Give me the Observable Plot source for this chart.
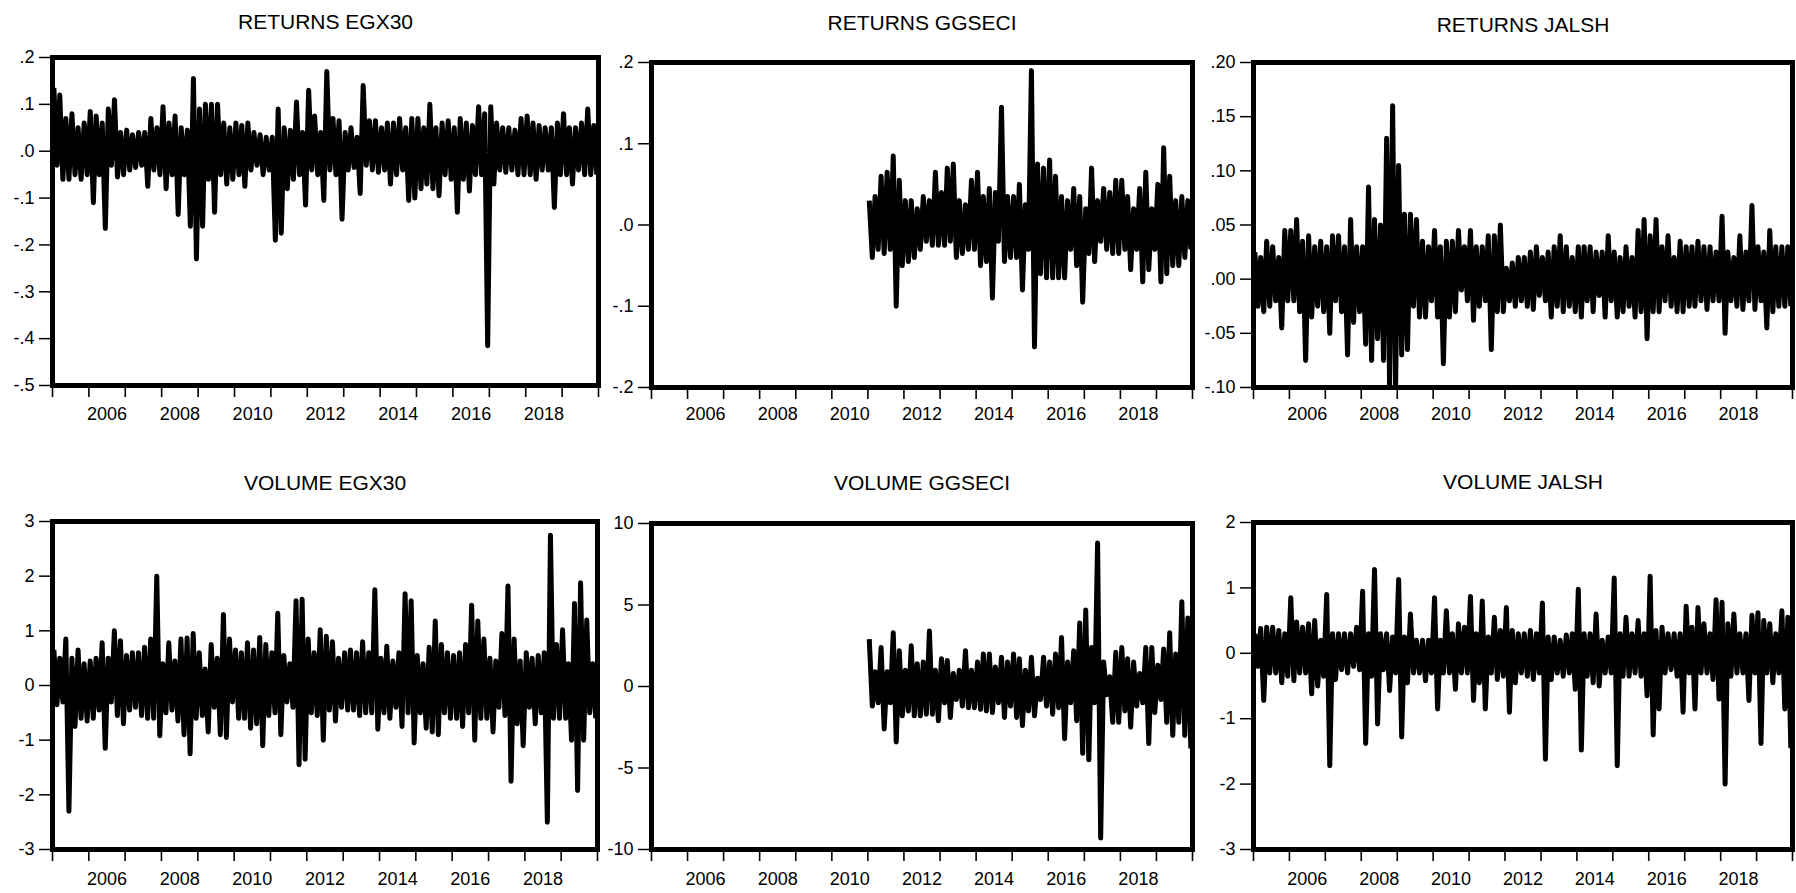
<!DOCTYPE html>
<html>
<head>
<meta charset="utf-8">
<script src="https://cdn.jsdelivr.net/npm/d3@7"></script>
<script src="https://cdn.jsdelivr.net/npm/@observablehq/plot@0.6"></script>
<style>
  body { margin: 0; background: #fff; }
  #wrap { position: relative; width: 1796px; height: 893px; overflow: hidden; background: #fff; }
  #wrap svg { position: absolute; overflow: visible; }
</style>
</head>
<body>
<div id="wrap"></div>
<script>
// ---------- titles ----------
const titles = ["RETURNS EGX30", "RETURNS GGSECI", "RETURNS JALSH", "VOLUME EGX30", "VOLUME GGSECI", "VOLUME JALSH"];

// ---------- x axis labels ----------
const yearTickYears = [2005,2006,2007,2008,2009,2010,2011,2012,2013,2014,2015,2016,2017,2018,2019,2020];
const yearLabels = ["2006","2008","2010","2012","2014","2016","2018"];

// ---------- y axis ticks / labels ----------
const yTicksRetEGX30 = [-0.5,-0.4,-0.3,-0.2,-0.1,0,0.1,0.2];
const yLabelsRetEGX30 = ["-.5","-.4","-.3","-.2","-.1",".0",".1",".2"];
const yTicksRetGGSECI = [-0.2,-0.1,0,0.1,0.2];
const yLabelsRetGGSECI = ["-.2","-.1",".0",".1",".2"];
const yTicksRetJALSH = [-0.10,-0.05,0,0.05,0.10,0.15,0.20];
const yLabelsRetJALSH = ["-.10","-.05",".00",".05",".10",".15",".20"];
const yTicksVolEGX30 = [-3,-2,-1,0,1,2,3];
const yLabelsVolEGX30 = ["-3","-2","-1","0","1","2","3"];
const yTicksVolGGSECI = [-10,-5,0,5,10];
const yLabelsVolGGSECI = ["-10","-5","0","5","10"];
const yTicksVolJALSH = [-3,-2,-1,0,1,2];
const yLabelsVolJALSH = ["-3","-2","-1","0","1","2"];

// ---------- series (monthly readings, EGX30 & JALSH from Jan 2005, GGSECI from Jan 2011) ----------
const retEGX30 = [
 0.135,-0.03,0.12,-0.06,0.07,-0.06,0.08,-0.05,0.05,-0.06,0.06,-0.05,
 0.085,-0.11,0.075,-0.05,0.06,-0.165,0.09,-0.03,0.11,-0.055,0.04,-0.05,
 0.045,-0.04,0.035,-0.035,0.04,-0.03,0.04,-0.075,0.07,-0.04,0.05,-0.05,
 0.095,-0.08,0.06,-0.05,0.075,-0.135,0.05,-0.05,0.045,-0.16,0.155,-0.23,
 0.09,-0.16,0.1,-0.06,0.1,-0.13,0.1,-0.05,0.06,-0.07,0.05,-0.06,
 0.06,-0.05,0.055,-0.075,0.06,-0.04,0.04,-0.03,0.035,-0.05,0.03,-0.04,
 0.03,-0.19,0.09,-0.175,0.05,-0.08,0.045,-0.06,0.105,-0.05,0.04,-0.115,
 0.13,-0.04,0.075,-0.05,0.04,-0.105,0.17,-0.04,0.07,-0.05,0.065,-0.145,
 0.04,-0.04,0.05,-0.035,0.03,-0.09,0.14,-0.03,0.065,-0.04,0.065,-0.045,
 0.05,-0.04,0.06,-0.07,0.06,-0.05,0.07,-0.04,0.05,-0.105,0.07,-0.1,
 0.07,-0.08,0.05,-0.07,0.1,-0.08,0.05,-0.095,0.06,-0.05,0.065,-0.06,
 0.05,-0.13,0.07,-0.06,0.06,-0.085,0.055,-0.05,0.095,-0.05,0.08,-0.415,
 0.095,-0.07,0.06,-0.04,0.05,-0.045,0.05,-0.04,0.045,-0.05,0.07,-0.05,
 0.075,-0.05,0.06,-0.06,0.055,-0.04,0.05,-0.04,0.05,-0.12,0.06,-0.05,
 0.08,-0.05,0.05,-0.07,0.05,-0.04,0.06,-0.05,0.09,-0.05,0.055,-0.05
];
const retGGSECI = [
 0.03,-0.04,0.035,-0.03,0.06,-0.035,0.065,-0.03,0.085,-0.1,0.055,-0.05,
 0.03,-0.045,0.03,-0.04,0.02,-0.03,0.035,-0.02,0.03,-0.025,0.065,-0.025,
 0.04,-0.025,0.07,-0.02,0.075,-0.04,0.03,-0.035,0.025,-0.03,0.055,-0.03,
 0.065,-0.05,0.035,-0.045,0.045,-0.09,0.04,-0.02,0.145,-0.045,0.035,-0.04,
 0.035,-0.04,0.05,-0.08,0.025,-0.03,0.19,-0.15,0.075,-0.06,0.07,-0.065,
 0.08,-0.065,0.06,-0.065,0.035,-0.065,0.03,-0.03,0.045,-0.05,0.035,-0.095,
 0.02,-0.035,0.07,-0.045,0.03,-0.02,0.045,-0.03,0.04,-0.035,0.055,-0.035,
 0.055,-0.03,0.035,-0.055,0.02,-0.03,0.045,-0.07,0.065,-0.055,0.02,-0.03,
 0.05,-0.07,0.095,-0.06,0.06,-0.05,0.03,-0.05,0.035,-0.04,0.03,-0.03
];
const retJALSH = [
 0.025,-0.025,0.02,-0.03,0.035,-0.025,0.03,-0.02,0.02,-0.045,0.045,-0.02,
 0.045,-0.02,0.055,-0.03,0.035,-0.075,0.04,-0.035,0.03,-0.025,0.035,-0.03,
 0.03,-0.05,0.04,-0.02,0.04,-0.03,0.03,-0.07,0.055,-0.04,0.03,-0.03,
 0.03,-0.06,0.085,-0.075,0.055,-0.055,0.05,-0.075,0.13,-0.1,0.16,-0.1,
 0.105,-0.07,0.06,-0.065,0.06,-0.025,0.055,-0.035,0.035,-0.035,0.03,-0.02,
 0.045,-0.035,0.03,-0.078,0.035,-0.035,0.035,-0.03,0.045,-0.01,0.03,-0.02,
 0.045,-0.038,0.03,-0.025,0.03,-0.02,0.04,-0.065,0.04,-0.03,0.05,-0.03,
 0.01,-0.02,0.015,-0.025,0.02,-0.02,0.02,-0.025,0.025,-0.028,0.03,-0.015,
 0.02,-0.02,0.025,-0.035,0.03,-0.025,0.04,-0.03,0.03,-0.025,0.02,-0.03,
 0.03,-0.035,0.03,-0.02,0.03,-0.03,0.025,-0.015,0.025,-0.035,0.04,-0.02,
 0.025,-0.035,0.02,-0.03,0.03,-0.025,0.02,-0.035,0.045,-0.03,0.055,-0.055,
 0.04,-0.03,0.055,-0.03,0.03,-0.02,0.04,-0.025,0.02,-0.03,0.035,-0.03,
 0.03,-0.025,0.03,-0.025,0.035,-0.02,0.03,-0.028,0.03,-0.02,0.025,-0.02,
 0.058,-0.05,0.025,-0.02,0.02,-0.025,0.04,-0.028,0.025,-0.02,0.068,-0.028,
 0.03,-0.02,0.025,-0.045,0.045,-0.03,0.03,-0.025,0.03,-0.025,0.03,-0.025
];
const volEGX30 = [
 0.65,-0.35,0.5,-0.3,0.85,-2.3,0.5,-0.75,0.65,-0.6,0.4,-0.65,
 0.45,-0.6,0.5,-0.45,0.78,-1.15,0.5,-0.3,1.0,-0.55,0.82,-0.7,
 0.55,-0.45,0.6,-0.4,0.6,-0.55,0.7,-0.6,0.85,-0.6,2.0,-0.92,
 0.4,-0.5,0.78,-0.45,0.45,-0.65,0.85,-0.9,0.87,-1.25,0.95,-0.6,
 0.6,-0.55,0.3,-0.85,0.75,-0.4,0.5,-0.9,1.3,-0.95,0.85,-0.3,
 0.65,-0.6,0.6,-0.6,0.78,-0.78,0.65,-0.7,0.88,-1.1,0.75,-0.55,
 0.6,-0.5,1.32,-0.9,0.55,-0.3,0.4,-0.4,1.55,-1.45,1.58,-1.35,
 0.85,-0.5,0.6,-0.55,1.02,-1.0,0.9,-0.45,0.8,-0.65,0.5,-0.4,
 0.6,-0.45,0.65,-0.45,0.6,-0.55,0.8,-0.5,0.6,-0.5,1.75,-0.8,
 0.5,-0.5,0.72,-0.6,0.45,-0.4,0.6,-0.75,1.68,-0.5,1.55,-1.05,
 0.55,-0.5,0.4,-0.78,0.7,-0.85,1.18,-0.9,0.75,-0.5,0.6,-0.6,
 0.55,-0.6,0.6,-0.75,0.75,-0.5,1.47,-1.0,1.18,-0.6,0.85,-0.6,
 0.5,-0.85,0.45,-0.4,0.95,-0.55,1.82,-1.75,0.85,-0.7,0.45,-1.1,
 0.6,-0.4,0.5,-0.7,0.55,-0.5,0.6,-2.5,2.75,-0.6,0.75,-0.6,
 1.02,-0.6,0.4,-1.0,1.5,-1.92,1.88,-1.0,1.2,-0.5,0.4,-0.6
];
const volGGSECI = [
 2.9,-1.2,0.9,-1.0,2.4,-2.6,0.9,-1.0,3.3,-3.4,2.2,-1.8,
 1.0,-1.5,2.5,-1.8,1.4,-1.8,1.5,-1.7,3.4,-1.7,1.0,-2.1,
 1.7,-1.0,1.6,-1.9,0.8,-0.8,1.0,-1.2,2.2,-1.3,1.0,-1.3,
 1.5,-1.4,2.0,-1.5,2.0,-1.6,1.2,-1.0,1.8,-1.9,1.5,-1.2,
 2.0,-1.9,1.7,-2.4,1.0,-1.5,1.8,-1.8,0.5,-0.8,1.8,-1.2,
 1.5,-1.7,2.0,-1.3,3.0,-3.2,1.5,-1.0,2.2,-2.1,3.9,-4.1,
 4.7,-4.5,2.4,-1.0,8.8,-9.3,1.5,-0.5,0.6,-2.2,2.1,-2.2,
 2.4,-1.5,1.7,-2.5,1.5,-1.2,0.8,-1.0,2.4,-3.5,2.4,-1.6,
 1.3,-0.8,2.3,-2.2,3.3,-3.0,2.0,-2.2,5.2,-3.0,4.2,-3.8
];
const volJALSH = [
 0.3,-0.2,0.38,-0.72,0.4,-0.3,0.4,-0.3,0.35,-0.45,0.3,-0.35,
 0.85,-0.42,0.48,-0.3,0.4,-0.3,0.45,-0.62,0.5,-0.5,0.2,-0.35,
 0.9,-1.72,0.3,-0.4,0.3,-0.25,0.3,-0.3,0.3,-0.2,0.4,-0.25,
 0.95,-1.38,0.3,-0.35,1.28,-1.08,0.3,-0.25,0.3,-0.57,0.25,-0.3,
 1.13,-1.28,0.25,-0.45,0.6,-0.3,0.2,-0.3,0.2,-0.42,0.2,-0.3,
 0.85,-0.85,0.2,-0.3,0.65,-0.3,0.3,-0.55,0.45,-0.3,0.4,-0.3,
 0.87,-0.72,0.3,-0.45,0.8,-0.85,0.25,-0.3,0.55,-0.4,0.35,-0.35,
 0.7,-0.9,0.35,-0.45,0.3,-0.3,0.3,-0.35,0.35,-0.4,0.3,-0.3,
 0.77,-1.62,0.25,-0.4,0.25,-0.3,0.2,-0.35,0.28,-0.3,0.3,-0.55,
 0.98,-1.48,0.3,-0.35,0.3,-0.45,0.6,-0.5,0.2,-0.3,0.25,-0.3,
 1.15,-1.72,0.3,-0.35,0.55,-0.35,0.3,-0.3,0.5,-0.35,0.3,-0.65,
 1.18,-1.25,0.35,-0.85,0.4,-0.3,0.3,-0.25,0.3,-0.35,0.3,-0.9,
 0.72,-0.3,0.4,-0.85,0.7,-0.3,0.45,-0.3,0.3,-0.4,0.82,-0.7,
 0.78,-2.0,0.45,-0.35,0.6,-0.3,0.3,-0.3,0.3,-0.72,0.58,-0.3,
 0.62,-1.38,0.5,-0.3,0.45,-0.45,0.3,-0.3,0.65,-0.85,0.55,-1.45
];

// ---------- time index ----------
const monthDates = (startYear, n) => d3.range(n).map(i => new Date(Date.UTC(startYear, i, 15)));
const datesFrom2005 = monthDates(2005, retEGX30.length);
const datesFrom2011 = monthDates(2011, retGGSECI.length);
const xDomain = [new Date(Date.UTC(2005, 0, 1)), new Date(Date.UTC(2020, 0, 1))];
const yearTicks = yearTickYears.map(y => new Date(Date.UTC(y, 0, 1)));
const labelDates = yearLabels.map(s => new Date(Date.UTC(+s, 6, 2)));
const labelOf = new Map(labelDates.map((d, i) => [+d, yearLabels[i]]));

const FONT = "'Liberation Sans', Arial, Helvetica, sans-serif";

const panels = [
  {title: titles[0], dates: datesFrom2005, values: retEGX30, yDomain: [-0.5, 0.2], yTicks: yTicksRetEGX30, yLabels: yLabelsRetEGX30,
   left: 0, top: 0, width: 605, height: 445, mt: 57, mr: 7, mb: 60, ml: 52, titleDy: -35, xPad: 22},
  {title: titles[1], dates: datesFrom2011, values: retGGSECI, yDomain: [-0.2, 0.2], yTicks: yTicksRetGGSECI, yLabels: yLabelsRetGGSECI,
   left: 605, top: 0, width: 600, height: 445, mt: 62, mr: 13, mb: 58, ml: 46, titleDy: -39, xPad: 20},
  {title: titles[2], dates: datesFrom2005, values: retJALSH, yDomain: [-0.10, 0.20], yTicks: yTicksRetJALSH, yLabels: yLabelsRetJALSH,
   left: 1205, top: 0, width: 591, height: 445, mt: 62, mr: 4, mb: 58, ml: 48, titleDy: -37, xPad: 20},
  {title: titles[3], dates: datesFrom2005, values: volEGX30, yDomain: [-3, 3], yTicks: yTicksVolEGX30, yLabels: yLabelsVolEGX30,
   left: 0, top: 445, width: 605, height: 448, mt: 76, mr: 8, mb: 44, ml: 52, titleDy: -38, xPad: 23},
  {title: titles[4], dates: datesFrom2011, values: volGGSECI, yDomain: [-10, 10], yTicks: yTicksVolGGSECI, yLabels: yLabelsVolGGSECI,
   left: 605, top: 445, width: 600, height: 448, mt: 78, mr: 13, mb: 44, ml: 46, titleDy: -40, xPad: 23},
  {title: titles[5], dates: datesFrom2005, values: volJALSH, yDomain: [-3, 2], yTicks: yTicksVolJALSH, yLabels: yLabelsVolJALSH,
   left: 1205, top: 445, width: 591, height: 448, mt: 77, mr: 4, mb: 44, ml: 48, titleDy: -40, xPad: 23}
];

const wrap = document.getElementById("wrap");
for (const p of panels) {
  const data = p.values.map((v, i) => ({date: p.dates[i], value: v}));
  const yLab = new Map(p.yTicks.map((t, i) => [t, p.yLabels[i]]));
  const svg = Plot.plot({
    width: p.width,
    height: p.height,
    marginTop: p.mt, marginRight: p.mr, marginBottom: p.mb, marginLeft: p.ml,
    style: {fontFamily: FONT, background: "transparent", overflow: "visible", color: "#000"},
    x: {type: "utc", domain: xDomain, label: null},
    y: {domain: p.yDomain, label: null},
    marks: [
      Plot.line(data, {x: "date", y: "value", stroke: "#000", strokeWidth: 5, strokeLinejoin: "round", strokeLinecap: "butt"}),
      Plot.axisY({ticks: p.yTicks, tickFormat: d => yLab.get(d), tickSize: 13, tickPadding: 5, fontSize: 18, strokeWidth: 1.5, label: null}),
      Plot.axisX({ticks: yearTicks, tickFormat: () => "", tickSize: 12, strokeWidth: 1.6, label: null}),
      Plot.axisX({ticks: labelDates, tickFormat: d => labelOf.get(+d), tickSize: 0, tickPadding: p.xPad, fontSize: 18, label: null}),
      Plot.frame({stroke: "#000", strokeWidth: 5}),
      Plot.text([p.title], {text: d => d, frameAnchor: "top", dy: p.titleDy, fontSize: 21, lineAnchor: "middle", fill: "#000"})
    ]
  });
  svg.style.left = p.left + "px";
  svg.style.top = p.top + "px";
  wrap.appendChild(svg);
}
</script>
</body>
</html>
